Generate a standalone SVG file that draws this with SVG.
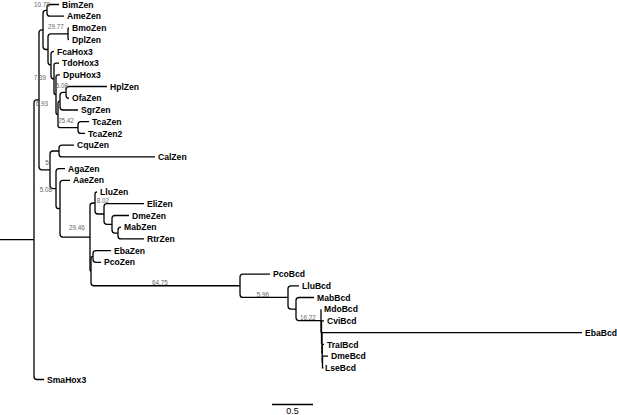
<svg xmlns="http://www.w3.org/2000/svg" width="617" height="415" viewBox="0 0 617 415">
<style>
.b{fill:none;stroke:#000;stroke-width:1.3}
.t{font-family:"Liberation Sans",Arial,sans-serif;font-weight:bold;font-size:8.6px;fill:#000}
.s{font-family:"Liberation Sans",Arial,sans-serif;font-size:6.3px;fill:#666;text-anchor:middle}
.sc{font-family:"Liberation Sans",Arial,sans-serif;font-size:9px;fill:#000;text-anchor:middle}
</style>
<rect width="617" height="415" fill="#fff"/>
<g id="connectors">
<path class="b" d="M0 239.7 H34"/>
<path class="b" d="M39 99.85 H37 Q34 99.85 34 102.85 V376.5 Q34 379.5 37 379.5 H44"/>
<path class="b" d="M43 29.9 H42 Q39 29.9 39 32.9 V166.8 Q39 169.8 42 169.8 H50"/>
<path class="b" d="M47 10.35 H46 Q43 10.35 43 13.35 V46.5 Q43 49.5 46 49.5 H48"/>
<path class="b" d="M59 4.5 H50 Q47 4.5 47 7.5 V13.2 Q47 16.2 50 16.2 H64"/>
<path class="b" d="M68 33.8 H51 Q48 33.8 48 36.8 V62.1 Q48 65.1 51 65.1"/>
<path class="b" d="M69 27.9 Q68 27.9 68 28.9 V38.7 Q68 39.7 69 39.7"/>
<path class="b" d="M54 51.4 Q51 51.4 51 54.4 V75.9 Q51 78.9 54 78.9"/>
<path class="b" d="M59 63.1 H56 Q54 63.1 54 65.1 V92.6 Q54 94.6 56 94.6"/>
<path class="b" d="M60 74.8 H58 Q56 74.8 56 76.8 V112.4 Q56 114.4 58 114.4"/>
<path class="b" d="M60 101.2 Q58 101.2 58 103.2 V125.55 Q58 127.55 60 127.55 H78"/>
<path class="b" d="M66 92.4 H63 Q60 92.4 60 95.4 V107 Q60 110 63 110 H78"/>
<path class="b" d="M107 86.5 H69 Q66 86.5 66 89.5 V95.3 Q66 98.3 69 98.3"/>
<path class="b" d="M89 121.7 H81 Q78 121.7 78 124.7 V130.4 Q78 133.4 81 133.4 H85"/>
<path class="b" d="M59 151 H53 Q50 151 50 154 V185.6 Q50 188.6 53 188.6 H56"/>
<path class="b" d="M74 145.1 H62 Q59 145.1 59 148.1 V153.9 Q59 156.9 62 156.9 H155"/>
<path class="b" d="M65 168.6 H59 Q56 168.6 56 171.6 V205.7 Q56 208.7 59 208.7 H60"/>
<path class="b" d="M70 180.3 H63 Q60 180.3 60 183.3 V234.05 Q60 237.05 63 237.05 H90"/>
<path class="b" d="M95 203 H93 Q90 203 90 206 V270.1 Q90 271.1 91 271.1"/>
<path class="b" d="M93 256.45 Q91 256.45 91 258.45 V282.75 Q91 285.75 94 285.75 H240"/>
<path class="b" d="M111 250.6 H96 Q93 250.6 93 253.6 V259.3 Q93 262.3 96 262.3 H101"/>
<path class="b" d="M97 192 Q95 192 95 194 V211 Q95 214 98 214 H104"/>
<path class="b" d="M144 203.7 H107 Q104 203.7 104 206.7 V221.3 Q104 224.3 107 224.3 H112"/>
<path class="b" d="M129 215.5 H115 Q112 215.5 112 218.5 V230.05 Q112 233.05 115 233.05 H118"/>
<path class="b" d="M121 227.2 Q118 227.2 118 230.2 V235.9 Q118 238.9 121 238.9 H144"/>
<path class="b" d="M270 274.1 H243 Q240 274.1 240 277.1 V294.4 Q240 297.4 243 297.4 H288"/>
<path class="b" d="M299 285.8 H291 Q288 285.8 288 288.8 V306.05 Q288 309.05 291 309.05 H296"/>
<path class="b" d="M314 297.5 H299 Q296 297.5 296 300.5 V317.6 Q296 320.6 299 320.6 H321"/>
<path class="b" d="M321 309.2 V332 H321.5"/>
<path class="b" d="M324 320.9 H321.5 V343 H322"/>
<path class="b" d="M582 332.7 H322 V353.2 H322.2"/>
<path class="b" d="M324 344.4 H322.2 V362 H322.5"/>
<path class="b" d="M328 356.1 H322.5 V367.8 H323.5"/>
</g>
<g id="support">
<text class="s" x="42" y="7">10.78</text>
<text class="s" x="56" y="29">29.77</text>
<text class="s" x="40" y="80">7.39</text>
<text class="s" x="62" y="88">5.08</text>
<text class="s" x="42" y="106">6.93</text>
<text class="s" x="66" y="123">25.42</text>
<text class="s" x="47" y="165">5</text>
<text class="s" x="46" y="192">5.08</text>
<text class="s" x="103" y="203">8.02</text>
<text class="s" x="77" y="230">29.46</text>
<text class="s" x="160" y="285">64.75</text>
<text class="s" x="263" y="297">5.96</text>
<text class="s" x="308" y="320">16.22</text>
</g>
<g id="BimZen"><text class="t" x="62" y="7.6">BimZen</text></g>
<g id="AmeZen"><text class="t" x="67" y="19.3">AmeZen</text></g>
<g id="BmoZen"><text class="t" x="72" y="31">BmoZen</text></g>
<g id="DplZen"><text class="t" x="72" y="42.8">DplZen</text></g>
<g id="FcaHox3"><text class="t" x="57" y="54.5">FcaHox3</text></g>
<g id="TdoHox3"><text class="t" x="62" y="66.2">TdoHox3</text></g>
<g id="DpuHox3"><text class="t" x="63" y="77.9">DpuHox3</text></g>
<g id="HplZen"><text class="t" x="110" y="89.6">HplZen</text></g>
<g id="OfaZen"><text class="t" x="72" y="101.4">OfaZen</text></g>
<g id="SgrZen"><text class="t" x="81" y="113.1">SgrZen</text></g>
<g id="TcaZen"><text class="t" x="92" y="124.8">TcaZen</text></g>
<g id="TcaZen2"><text class="t" x="88" y="136.5">TcaZen2</text></g>
<g id="CquZen"><text class="t" x="77" y="148.2">CquZen</text></g>
<g id="CalZen"><text class="t" x="158" y="160">CalZen</text></g>
<g id="AgaZen"><text class="t" x="68" y="171.7">AgaZen</text></g>
<g id="AaeZen"><text class="t" x="73" y="183.4">AaeZen</text></g>
<g id="LluZen"><text class="t" x="100" y="195.1">LluZen</text></g>
<g id="EliZen"><text class="t" x="147" y="206.8">EliZen</text></g>
<g id="DmeZen"><text class="t" x="132" y="218.6">DmeZen</text></g>
<g id="MabZen"><text class="t" x="124" y="230.3">MabZen</text></g>
<g id="RtrZen"><text class="t" x="147" y="242">RtrZen</text></g>
<g id="EbaZen"><text class="t" x="114" y="253.7">EbaZen</text></g>
<g id="PcoZen"><text class="t" x="104" y="265.4">PcoZen</text></g>
<g id="PcoBcd"><text class="t" x="273" y="277.2">PcoBcd</text></g>
<g id="LluBcd"><text class="t" x="302" y="288.9">LluBcd</text></g>
<g id="MabBcd"><text class="t" x="317" y="300.6">MabBcd</text></g>
<g id="MdoBcd"><text class="t" x="324" y="312.3">MdoBcd</text></g>
<g id="CviBcd"><text class="t" x="327" y="324">CviBcd</text></g>
<g id="EbaBcd"><text class="t" x="585" y="335.8">EbaBcd</text></g>
<g id="TraIBcd"><text class="t" x="327" y="347.5">TraIBcd</text></g>
<g id="DmeBcd"><text class="t" x="331" y="359.2">DmeBcd</text></g>
<g id="LseBcd"><text class="t" x="325" y="370.9">LseBcd</text></g>
<g id="SmaHox3"><text class="t" x="47" y="382.6">SmaHox3</text></g>
<g id="scale">
<path class="b" d="M272 404.5 H313"/>
<text class="sc" x="292.5" y="414">0.5</text>
</g>
</svg>
